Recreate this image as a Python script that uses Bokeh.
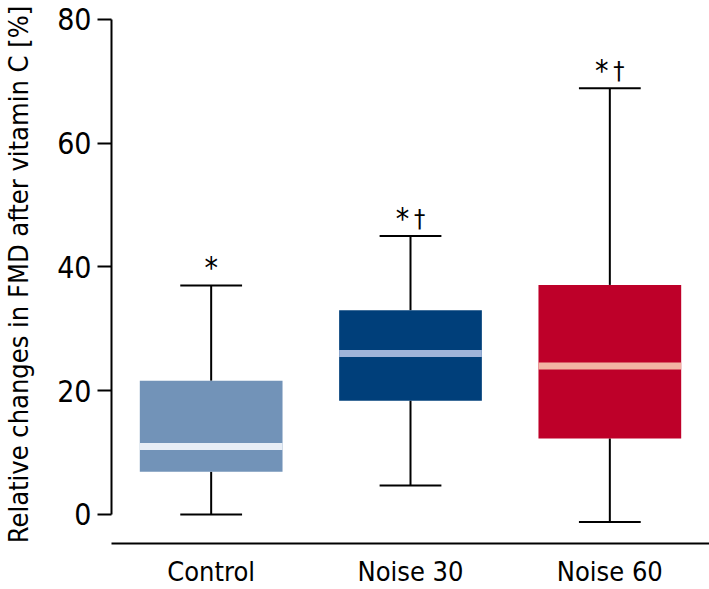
from bokeh.plotting import figure
from bokeh.models import FactorRange, Range1d, FixedTicker, ColumnDataSource
from bokeh.embed import file_html
from bokeh.resources import INLINE
from bokeh.core.properties import value

groups = ["Control", "Noise 30", "Noise 60"]
lower = [0.0, 4.7, -1.2]
q1 = [6.9, 18.4, 12.3]
median = [11.0, 26.0, 24.0]
q3 = [21.6, 33.0, 37.1]
upper = [37.0, 45.0, 68.9]
box_colors = ["#7293B8", "#003F7A", "#BE0029"]
median_colors = ["#E8EEF6", "#9FB4D9", "#F2B3A3"]
stars = ["*", "*", "*"]
daggers = ["", "\u2020", "\u2020"]
y_ticks = [0, 20, 40, 60, 80]
y_title = "Relative changes in FMD after vitamin C [%]"

FONT = "DejaVu Sans Condensed"

src = ColumnDataSource(dict(x=groups, lower=lower, q1=q1, median=median, q3=q3,
                            upper=upper, box=box_colors, med=median_colors))

p = figure(x_range=FactorRange(factors=groups, range_padding=0),
           y_range=Range1d(-4.69, 82.26),
           width=709, height=589, output_backend="svg", toolbar_location=None,
           min_border_left=109, min_border_right=0, min_border_top=5, min_border_bottom=46)
p.xgrid.visible = False
p.ygrid.visible = False
p.outline_line_color = None

# whiskers
p.segment(x0="x", y0="q3", x1="x", y1="upper", source=src, line_color="black", line_width=2)
p.segment(x0="x", y0="q1", x1="x", y1="lower", source=src, line_color="black", line_width=2)
p.rect(x="x", y="upper", width=0.31, height=2, height_units="screen", source=src,
       fill_color="black", line_color=None)
p.rect(x="x", y="lower", width=0.31, height=2, height_units="screen", source=src,
       fill_color="black", line_color=None)

# boxes
p.vbar(x="x", top="q3", bottom="q1", width=0.716, source=src, fill_color="box", line_color=None)
p.rect(x="x", y="median", width=0.716, height=7, height_units="screen", source=src,
       fill_color="med", line_color=None)

# significance markers
p.text(x=groups[:1], y=upper[:1], text=stars[:1], text_font=value(FONT), text_font_size="30px",
       text_align="center", text_baseline="middle", y_offset=-18, text_color="black")
p.text(x=groups[1:], y=upper[1:], text=stars[1:], text_font=value(FONT), text_font_size="30px",
       text_align="center", text_baseline="middle", y_offset=-18, x_offset=-8, text_color="black")
p.text(x=groups[1:], y=upper[1:], text=daggers[1:], text_font=value(FONT), text_font_size="25px",
       text_align="center", text_baseline="middle", y_offset=-18, x_offset=9, text_color="black")

# axes
ya = p.yaxis[0]
ya.ticker = FixedTicker(ticks=y_ticks)
ya.bounds = (0, 80)
ya.major_tick_out = 14
ya.major_tick_in = 0
ya.minor_tick_out = 0
ya.minor_tick_in = 0
ya.axis_line_width = 2
ya.major_tick_line_width = 2
ya.major_label_text_font = FONT
ya.major_label_text_font_size = "30px"
ya.major_label_text_color = "black"
ya.major_label_standoff = 6
ya.axis_label = y_title
ya.axis_label_text_font = FONT
ya.axis_label_text_font_size = "27px"
ya.axis_label_text_font_style = "normal"
ya.axis_label_text_color = "black"
ya.axis_label_standoff = 20

xa = p.xaxis[0]
xa.major_tick_out = 0
xa.major_tick_in = 0
xa.minor_tick_out = 0
xa.axis_line_width = 2
xa.major_label_text_font = FONT
xa.major_label_text_font_size = "27px"
xa.major_label_text_color = "black"
xa.major_label_standoff = 12

open("out.html", "w").write(file_html(p, INLINE))
